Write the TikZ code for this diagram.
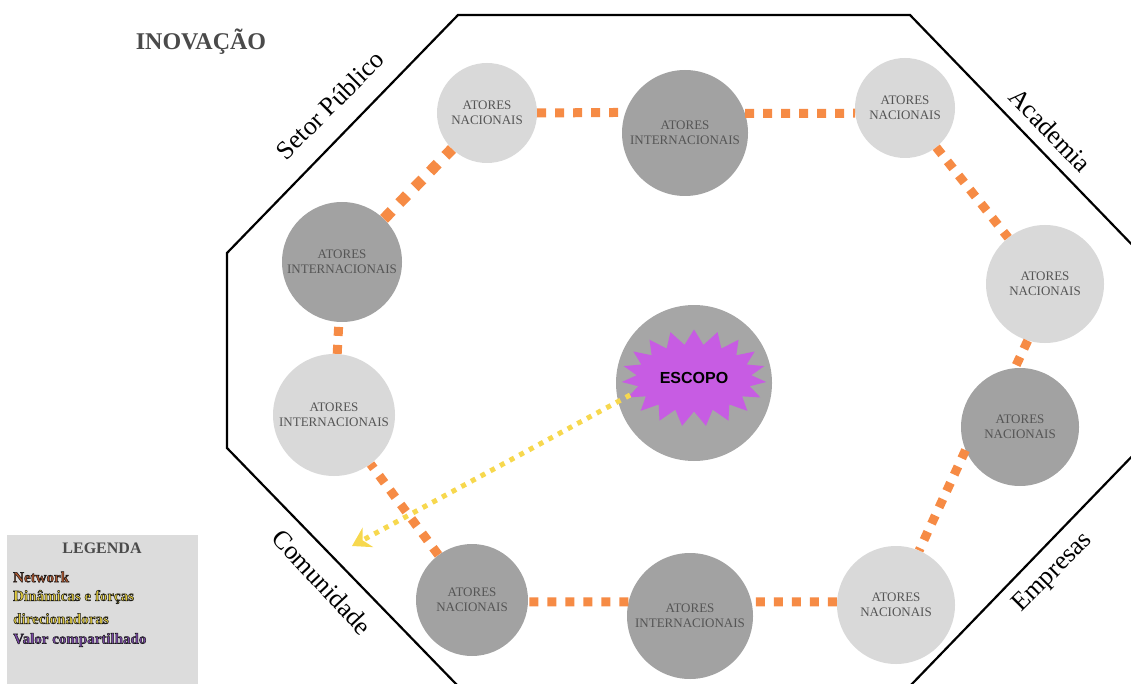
\documentclass[tikz,border=0pt]{standalone}
\usepackage{fontspec}
\setmainfont{Liberation Serif}
\newfontfamily\escfont{Liberation Sans}
\usetikzlibrary{shapes.symbols,arrows.meta}
\definecolor{lightg}{HTML}{D9D9D9}
\definecolor{darkg}{HTML}{A2A2A2}
\definecolor{escg}{HTML}{A6A6A6}
\definecolor{orng}{HTML}{F68B45}
\definecolor{ylw}{HTML}{F7D84E}
\definecolor{purp}{HTML}{C75CE3}
\definecolor{txtg}{HTML}{555555}
\definecolor{titg}{HTML}{4A4A4A}
\definecolor{legbg}{HTML}{DCDCDC}
\definecolor{netc}{HTML}{B0562E}
\definecolor{dinc}{HTML}{E2CC40}
\definecolor{valc}{HTML}{7A48A6}
\newcommand{\outlined}[1]{\special{pdf:literal direct 2 Tr 0.5 w 0.1 0.1 0.1 RG}#1\special{pdf:literal direct 0 Tr}}
\begin{document}
\begin{tikzpicture}[x=1pt,y=-1pt,
  actor/.style={circle, inner sep=0pt, font=\fontsize{13}{15}\selectfont, text=txtg, align=center},
  lightc/.style={actor, fill=lightg},
  darkc/.style={actor, fill=darkg},
  net/.style={orng, line width=9pt, dash pattern=on 9pt off 9pt},
  side/.style={font=\fontsize{26}{30}\selectfont, inner sep=0pt},
  legtxt/.style={anchor=west, inner sep=0pt, align=left, font=\bfseries\fontsize{15}{23}\selectfont}
]
\useasboundingbox (0,0) rectangle (1131,684);
\clip (0,0) rectangle (1131,684);

% octagon
\draw[line width=2.2pt, line join=miter] (458,15) -- (910,15) -- (1140,253) -- (1140,448) -- (910,686) -- (458,686) -- (227,448) -- (227,253) -- cycle;

% title
\node[font=\bfseries\fontsize{24}{28}\selectfont, text=titg] (title) at (201,42) {INOVAÇÃO};

% side labels
\node[side, rotate=45] (setor) at (330,105) {Setor Público};
\node[side, rotate=-46] (acad) at (1050,130) {Academia};
\node[side, rotate=-47] (comu) at (322,582) {Comunidade};
\node[side, rotate=45] (empr) at (1053,573) {Empresas};

% actor circles
\node[lightc, minimum size=100pt] (n1) at (487,113) {ATORES\\NACIONAIS};
\node[darkc, minimum size=126pt] (n2) at (685,133) {ATORES\\INTERNACIONAIS};
\node[lightc, minimum size=100pt] (n3) at (905,108) {ATORES\\NACIONAIS};
\node[lightc, minimum size=118pt] (n4) at (1045,284) {ATORES\\NACIONAIS};
\node[darkc, minimum size=118pt] (n5) at (1020,427) {ATORES\\NACIONAIS};
\node[lightc, minimum size=118pt] (n6) at (896,605) {ATORES\\NACIONAIS};
\node[darkc, minimum size=126pt] (n7) at (690,616) {ATORES\\INTERNACIONAIS};
\node[darkc, minimum size=112pt] (n8) at (472,600) {ATORES\\NACIONAIS};
\node[lightc, minimum size=122pt] (n9) at (334,415) {ATORES\\INTERNACIONAIS};
\node[darkc, minimum size=120pt] (n10) at (342,262) {ATORES\\INTERNACIONAIS};

% escopo
\node[circle, fill=escg, minimum size=156pt, inner sep=0pt] (escc) at (694,383) {};
\node[starburst, starburst points=19, starburst point height=15pt, random starburst=0,
      fill=purp, minimum width=145pt, minimum height=97pt, inner sep=0pt,
      font=\escfont\bfseries\fontsize{16}{18}\selectfont] (esc) at (694,378) {ESCOPO};

% network connectors
\draw[net] (n1.east) -- (n2.161);
\draw[net] (n2.18) -- (n3.186);
\draw[net] (n3) -- (n4);
\draw[net] (n4.-107) -- (n5.95);
\draw[net] (n5.203) -- (n6.67);
\draw[net] (n6.177) -- (n7.13);
\draw[net] (n7.167) -- (n8.-2);
\draw[net] (n8) -- (n9);
\draw[net] (n9) -- (n10);
\draw[net, line width=11pt, dash pattern=on 11pt off 11pt] (n10) -- (n1);

% yellow arrow
\coordinate (arr) at (352,546);
\draw[ylw, line width=5pt, dash pattern=on 5pt off 6pt, -{Stealth[length=18pt,width=22pt,inset=6pt]}] ([yshift=-17pt]esc.west) -- (arr);

% legend
\node[fill=legbg, minimum width=191pt, minimum height=149pt, inner sep=0pt, anchor=north west] (leg) at (7,535) {};
\node[font=\bfseries\fontsize{16}{18}\selectfont, text=titg] (legt) at (102,548) {LEGENDA};
\node[legtxt, text=netc] (l1) at (13,577) {\outlined{Network}};
\node[legtxt, text=dinc, anchor=north west] (l2) at (13,590) {\outlined{Dinâmicas e forças}\\\outlined{direcionadoras}};
\node[legtxt, text=valc] (l3) at (13,640) {\outlined{Valor compartilhado}};
\end{tikzpicture}
\end{document}
